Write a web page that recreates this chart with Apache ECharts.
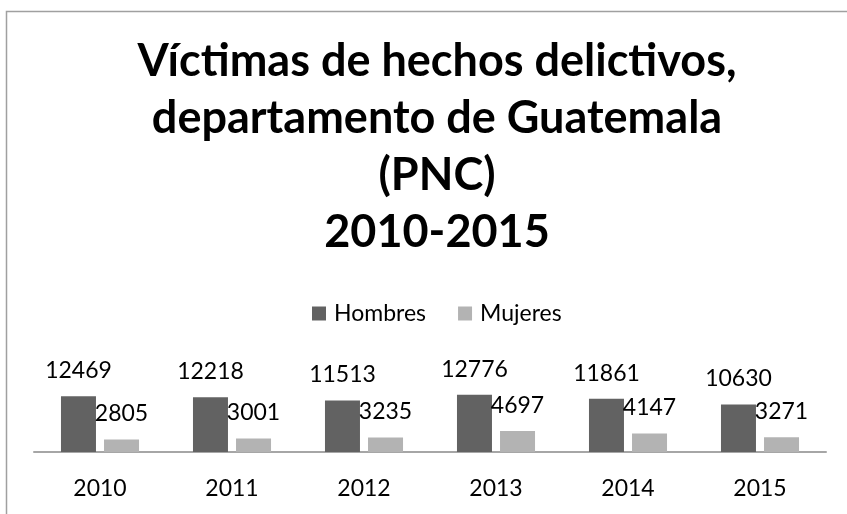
<!DOCTYPE html>
<html>
<head>
<meta charset="utf-8">
<script src="https://cdn.jsdelivr.net/npm/echarts@6/dist/echarts.min.js"></script>
<style>
  html, body { margin: 0; padding: 0; background: #fff; }
  #show { width: 847px; height: 514px; }
</style>
</head>
<body>
<div id="show"></div>
<script>
// datos
var anios = ['2010', '2011', '2012', '2013', '2014', '2015'];
var hombres = [12469, 12218, 11513, 12776, 11861, 10630];
var mujeres = [2805, 3001, 3235, 4697, 4147, 3271];

var myChart = echarts.init(document.getElementById('show'));
var fuente = 'Lato';

var option = {
    backgroundColor: '#fff',
    animation: false,
    title: {
        text: 'Víctimas de hechos delictivos,\ndepartamento de Guatemala\n(PNC)\n2010-2015',
        left: 432,
        top: 28,
        textAlign: 'center',
        textStyle: {
            fontFamily: fuente,
            fontWeight: 'bold',
            fontSize: 45,
            lineHeight: 57,
            color: '#000'
        }
    },
    legend: {
        left: 307,
        top: 297,
        itemWidth: 14,
        itemHeight: 14,
        itemGap: 32,
        icon: 'rect',
        data: ['Hombres', 'Mujeres'],
        textStyle: {
            fontFamily: fuente,
            fontSize: 23,
            color: '#000',
            padding: [0, 0, 0, 3]
        }
    },
    graphic: [{
        // marco del area del grafico
        type: 'rect',
        left: 4,
        top: 9,
        shape: { width: 900, height: 600 },
        style: { fill: 'none', stroke: '#a0a0a0', lineWidth: 1.5 },
        silent: true
    }],
    grid: {
        left: 34,
        right: 21,
        top: 340,
        bottom: 62
    },
    xAxis: {
        type: 'category',
        data: anios,
        axisLine: { lineStyle: { color: '#a6a6a6', width: 2 } },
        axisTick: { show: false },
        axisLabel: {
            margin: 25,
            fontFamily: fuente,
            fontSize: 23,
            color: '#000'
        }
    },
    yAxis: {
        type: 'value',
        min: 0,
        max: 25000,
        show: false,
        splitLine: { show: false }
    },
    series: [
        {
            name: 'Hombres',
            type: 'bar',
            data: hombres,
            barWidth: 35,
            barGap: '23%',
            itemStyle: { color: '#626262' },
            label: {
                show: true,
                position: 'top',
                distance: 14,
                fontFamily: fuente,
                fontSize: 23,
                color: '#000'
            }
        },
        {
            name: 'Mujeres',
            type: 'bar',
            data: mujeres,
            barWidth: 35,
            itemStyle: { color: '#b3b3b3' },
            label: {
                show: true,
                position: 'top',
                distance: 14,
                fontFamily: fuente,
                fontSize: 23,
                color: '#000'
            }
        }
    ]
};

myChart.setOption(option);
</script>
</body>
</html>
